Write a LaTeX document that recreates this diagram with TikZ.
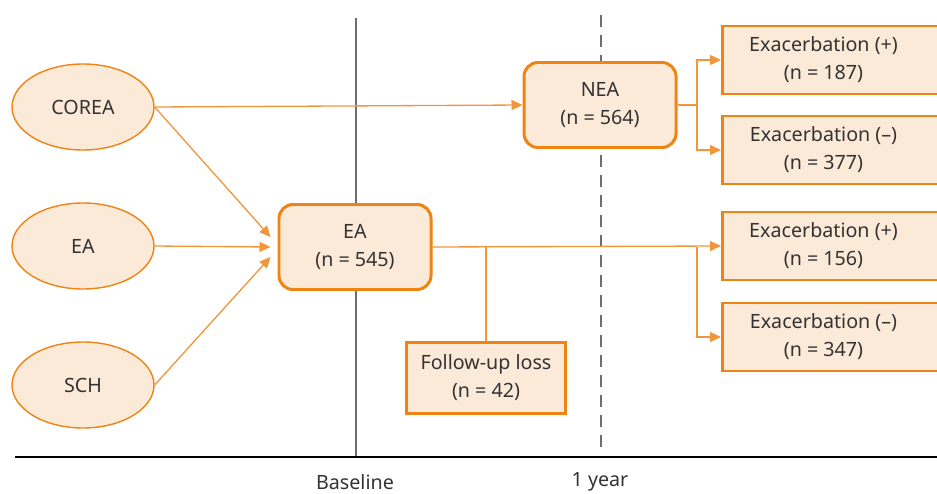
\documentclass[tikz,border=0pt]{standalone}
\usepackage{fontspec}
\setmainfont{Noto Sans}
\usetikzlibrary{shapes.geometric,arrows.meta}
\definecolor{floworange}{RGB}{239,131,20}
\definecolor{flowline}{RGB}{241,150,60}
\definecolor{flowfill}{RGB}{252,234,216}
\definecolor{flowtext}{RGB}{51,51,51}
\definecolor{timegray}{RGB}{110,110,110}

\begin{document}
\begin{tikzpicture}[x=0.2mm, y=-0.2mm,
    every node/.style={font=\fontsize{11.2}{16}\selectfont, text=flowtext, align=center},
    oval/.style={ellipse, draw=floworange, fill=flowfill, line width=0.8pt,
        minimum width=28.4mm, minimum height=17.2mm},
    groupbox/.style={rounded corners=2.8mm, draw=floworange, fill=flowfill, line width=1.7pt,
        minimum width=30.4mm, minimum height=17mm},
    outbox/.style={rectangle, draw=floworange, fill=flowfill, line width=1.7pt,
        minimum width=44.8mm, minimum height=13.6mm},
    link/.style={draw=flowline, line width=0.75pt},
    arr/.style={link, -{Triangle[length=2.2mm, width=2mm]}}]
    \useasboundingbox (0,0) rectangle (937,493);

    % time axis
    \draw[timegray, line width=1.1pt] (356,18) -- (356,457);
    \draw[timegray, line width=1.3pt, dash pattern=on 2.4mm off 1.6mm] (601,15) -- (601,455);
    \draw[black, line width=1.2pt] (15,457) -- (937,457);
    \node (base) at (355,482) {Baseline};
    \node (year) at (600,482) {1 year};

    % cohorts
    \node[oval] (corea) at (83,107) {COREA};
    \node[oval] (eaoval) at (83,246) {EA};
    \node[oval] (sch) at (83,385) {SCH};

    % groups
    \node[groupbox] (ea) at (355,247) {EA\\(n = 545)};
    \node[groupbox] (nea) at (600,105) {NEA\\(n = 564)};
    \node[outbox, minimum width=31.8mm, minimum height=14.2mm] (loss) at (486,378) {Follow-up loss\\(n = 42)};

    % outcomes
    \node[outbox, anchor=west] (nea1) at (721,60) {\hspace*{-4.4mm}Exacerbation (+)\\\hspace*{-4.4mm}(n = 187)};
    \node[outbox, anchor=west] (nea2) at (721,150) {\hspace*{-4.4mm}Exacerbation (--)\\\hspace*{-4.4mm}(n = 377)};
    \node[outbox, anchor=west] (ea1) at (721,246) {\hspace*{-4.4mm}Exacerbation (+)\\\hspace*{-4.4mm}(n = 156)};
    \node[outbox, anchor=west] (ea2) at (721,337) {\hspace*{-4.4mm}Exacerbation (--)\\\hspace*{-4.4mm}(n = 347)};

    % links into EA
    \draw[arr] (corea.east) -- ([xshift=-1.4mm, yshift=2mm]ea.west);
    \draw[arr] (eaoval.east) -- ([xshift=-1.4mm]ea.west);
    \draw[arr] (sch.east) -- ([xshift=-1.4mm, yshift=-2mm]ea.west);
    \draw[arr] (corea.east) -- (nea.west);

    % NEA split
    \coordinate (neasplit) at (697,105);
    \draw[link] (nea.east) -- (neasplit);
    \draw[arr] (neasplit) |- (nea1.west);
    \draw[arr] (neasplit) |- (nea2.west);

    % EA split
    \coordinate (losssplit) at (486,247);
    \coordinate (easplit) at (697,247);
    \draw[arr] (ea.east) -- (ea1.west);
    \draw[arr] (easplit) |- (ea2.west);
    \draw[link] (losssplit) -- (loss.north);
\end{tikzpicture}
\end{document}
